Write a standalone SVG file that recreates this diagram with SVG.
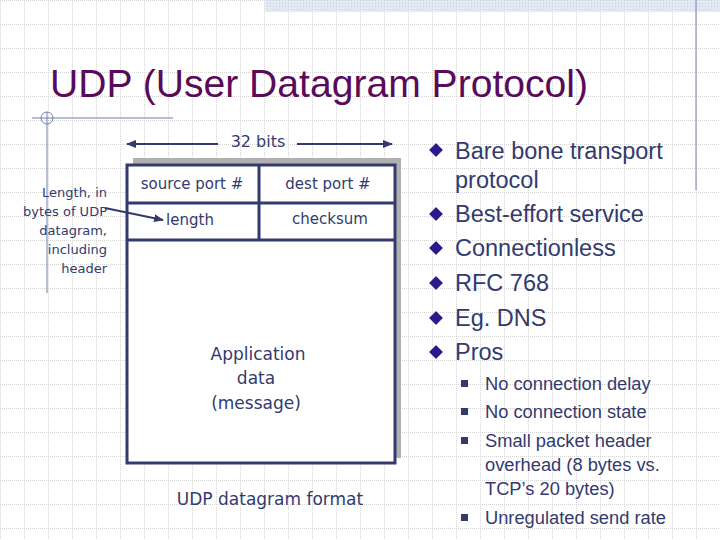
<svg xmlns="http://www.w3.org/2000/svg" width="720" height="540" viewBox="0 0 720 540">
<defs>
<pattern id="grid" width="24" height="24" patternUnits="userSpaceOnUse"><path d="M0 0.5H24M0.5 0V24" stroke="#d4d4d4" stroke-width="1" stroke-dasharray="1,1" fill="none"/></pattern>
<pattern id="hatch" width="3" height="3" patternUnits="userSpaceOnUse"><rect width="3" height="3" fill="#e4eaf4"/><rect width="1" height="1" fill="#c4cfe4"/></pattern>
<marker id="ah" viewBox="0 0 10 10" refX="9" refY="5" markerWidth="5" markerHeight="5" orient="auto-start-reverse"><path d="M0 1L10 5L0 9z" fill="#333a6e"/></marker>
</defs>
<style>
.c{font-family:"DejaVu Sans",sans-serif;fill:#333a6e}
.b{font-family:"Liberation Sans",Arial,sans-serif;fill:#333a6e}
.box{fill:none;stroke:#333a6e;stroke-width:3}
</style>
<rect width="720" height="540" fill="#fff"/>
<rect width="720" height="540" fill="url(#grid)"/>
<rect x="265" y="0" width="455" height="12" fill="url(#hatch)"/>
<g id="decor" stroke="#7080b0" stroke-width="1" fill="none">
<line x1="47" y1="112" x2="47" y2="293"/>
<line x1="32" y1="118" x2="173" y2="118"/>
<circle cx="47" cy="118" r="6"/>
<line x1="696" y1="0" x2="696" y2="190"/>
</g>
<text x="50" y="97" font-family="Liberation Sans,Arial,sans-serif" font-size="39" fill="#5a0a5a" textLength="538" lengthAdjust="spacingAndGlyphs">UDP (User Datagram Protocol)</text>
<g id="packet">
<rect x="133" y="158" width="268" height="300" fill="#b0b0b0"/>
<rect x="127" y="165" width="268" height="298" fill="#fff"/>
<rect x="127" y="165" width="268" height="298" class="box"/>
<line x1="127" y1="203" x2="395" y2="203" class="box"/>
<line x1="127" y1="240" x2="395" y2="240" class="box"/>
<line x1="259" y1="165" x2="259" y2="240" class="box"/>
<text class="c" x="192" y="189" font-size="15" text-anchor="middle">source port #</text>
<text class="c" x="328" y="189" font-size="15" text-anchor="middle">dest port #</text>
<text class="c" x="190" y="225" font-size="15" text-anchor="middle">length</text>
<text class="c" x="330" y="224" font-size="15" text-anchor="middle">checksum</text>
<text class="c" x="258" y="360" font-size="17" text-anchor="middle">Application</text>
<text class="c" x="256" y="384" font-size="17" text-anchor="middle">data</text>
<text class="c" x="256" y="409" font-size="17" text-anchor="middle">(message)</text>
</g>
<g id="bits">
<text class="c" x="258" y="147" font-size="16" text-anchor="middle">32 bits</text>
</g>
<g id="note">
<text class="c" font-size="13" text-anchor="end"><tspan x="107" y="197">Length, in</tspan><tspan x="107" y="216">bytes of UDP</tspan><tspan x="107" y="235">datagram,</tspan><tspan x="107" y="254">including</tspan><tspan x="107" y="273">header</tspan></text>
</g>
<g id="connectors" stroke="#333a6e" stroke-width="2" fill="none">
<line x1="127" y1="144" x2="218" y2="144" marker-start="url(#ah)"/>
<line x1="297" y1="144" x2="392" y2="144" marker-end="url(#ah)"/>
<line x1="105" y1="208" x2="163" y2="220" marker-end="url(#ah)"/>
</g>
<text class="c" x="270" y="505" font-size="17" text-anchor="middle">UDP datagram format</text>
<g id="bullets" class="b" font-size="23.5">
<g fill="#2a1a8a" stroke="#a0a0d0" stroke-width="1">
<path d="M436 143l7 7-7 7-7-7z"/><path d="M436 207l7 7-7 7-7-7z"/><path d="M436 241l7 7-7 7-7-7z"/><path d="M436 276l7 7-7 7-7-7z"/><path d="M436 311l7 7-7 7-7-7z"/><path d="M436 345l7 7-7 7-7-7z"/>
</g>
<text class="b" x="455" y="159">Bare bone transport</text>
<text class="b" x="455" y="188">protocol</text>
<text class="b" x="455" y="222">Best-effort service</text>
<text class="b" x="455" y="256">Connectionless</text>
<text class="b" x="455" y="291">RFC 768</text>
<text class="b" x="455" y="326">Eg. DNS</text>
<text class="b" x="455" y="360">Pros</text>
<g fill="#333a6e"><rect x="461" y="380" width="7" height="7"/><rect x="461" y="408" width="7" height="7"/><rect x="461" y="437" width="7" height="7"/><rect x="461" y="514" width="7" height="7"/></g>
<g font-size="18.3">
<text class="b" x="485" y="390">No connection delay</text>
<text class="b" x="485" y="418">No connection state</text>
<text class="b" x="485" y="447">Small packet header</text>
<text class="b" x="485" y="471">overhead (8 bytes vs.</text>
<text class="b" x="485" y="495">TCP’s 20 bytes)</text>
<text class="b" x="485" y="524">Unregulated send rate</text>
</g>
</g>
</svg>
